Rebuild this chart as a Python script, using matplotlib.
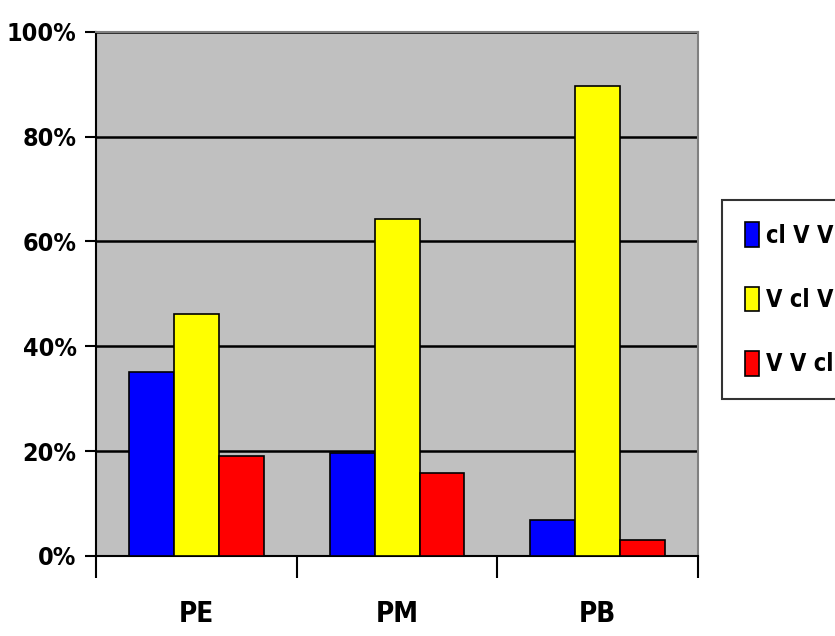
import numpy as np
import matplotlib.pyplot as plt
import matplotlib.font_manager as fm
from matplotlib.ticker import PercentFormatter

categories = ['PE', 'PM', 'PB']
series = ['cl V V', 'V cl V', 'V V cl']
values_a = [35.1, 19.7, 6.9]
values_b = [46.2, 64.3, 89.7]
values_c = [19.1, 15.8, 3.1]
colors = ['#0000ff', '#ffff00', '#ff0000']

# look for a narrow font (Arial Narrow look), else plain Liberation Sans
narrow = [f for f in fm.fontManager.ttflist
          if 'narrow' in f.name.lower() or 'condensed' in f.name.lower()
          or str(f.stretch) in ('condensed', 'semi-condensed', '75', '87')]
if narrow:
    fam, stretch, fs, lfs = narrow[0].name, narrow[0].stretch, 18, 17
else:
    fam, stretch, fs, lfs = 'Liberation Sans', 'normal', 16, 15

plt.rcParams['font.family'] = [fam, 'DejaVu Sans']
plt.rcParams['font.stretch'] = stretch
plt.rcParams['font.weight'] = 'bold'

fig = plt.figure(figsize=(8.35, 6.36), dpi=100)
ax = fig.add_axes([0.115, 0.126, 0.721, 0.824])
ax.set_facecolor('#c0c0c0')

x = np.arange(len(categories))
w = 0.224
for i, (vals, c, lab) in enumerate(zip([values_a, values_b, values_c], colors, series)):
    ax.bar(x + (i - 1) * w, vals, w, color=c, edgecolor='black', linewidth=1.2,
           label=lab, zorder=3)

ax.set_xlim(-0.5, 2.5)
ax.set_ylim(0, 100)
ax.set_yticks([0, 20, 40, 60, 80, 100])
ax.yaxis.set_major_formatter(PercentFormatter(decimals=0))
ax.grid(axis='y', color='black', linewidth=1.8, zorder=1)

ax.set_xticks([-0.5, 0.5, 1.5, 2.5])
ax.set_xticklabels([])
ax.set_xticks(x, minor=True)
ax.set_xticklabels(categories, minor=True, fontsize=fs + 2, fontweight='bold')
ax.tick_params(axis='x', which='minor', length=0, pad=32)
ax.tick_params(axis='x', which='major', length=16, width=1.5, direction='out')
ax.tick_params(axis='y', length=8, width=1.5, labelsize=fs, pad=6)

for s in ['left', 'bottom']:
    ax.spines[s].set_linewidth(1.5)
    ax.spines[s].set_color('black')
for s in ['top', 'right']:
    ax.spines[s].set_color('#808080')
    ax.spines[s].set_linewidth(1.5)

leg = fig.legend(loc='upper left', bbox_to_anchor=(0.865, 0.686), frameon=True,
                 fancybox=False, edgecolor='black', borderaxespad=0,
                 handlelength=0.6, handleheight=1.25, handletextpad=0.3,
                 labelspacing=1.65, borderpad=0.95,
                 prop={'weight': 'bold', 'size': lfs})
leg.get_frame().set_linewidth(1.5)

fig.savefig('out.png', dpi=100)
